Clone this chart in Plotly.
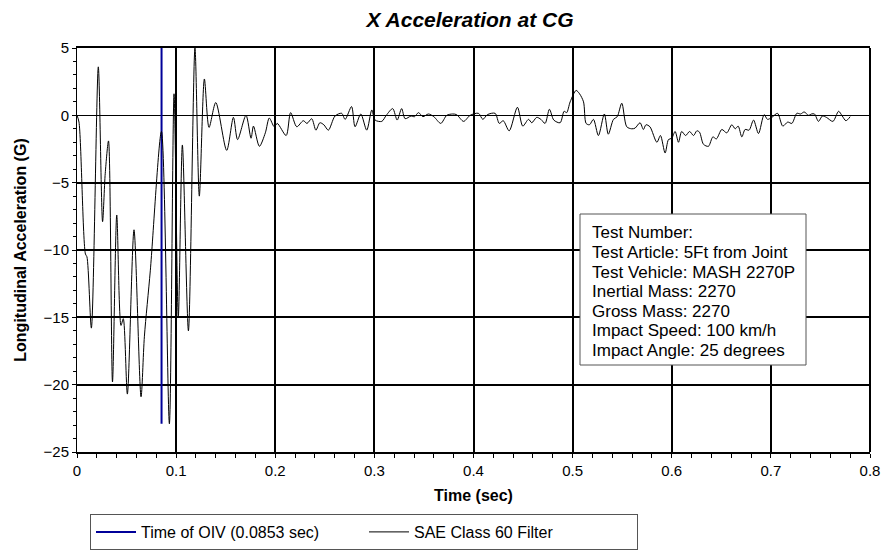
import plotly.graph_objects as go

# SAE class 60 filtered longitudinal acceleration at CG
time_s = [0.000, 0.002, 0.0085, 0.0100, 0.0145, 0.0215, 0.0258, 0.0285, 0.0318, 0.0358,
          0.0401, 0.0444, 0.0467, 0.0508, 0.0575, 0.0646, 0.0680, 0.0740, 0.0852, 0.0932,
          0.0979, 0.1022, 0.1063, 0.1124, 0.1190, 0.1234, 0.1285, 0.1332, 0.1400, 0.1510,
          0.1578, 0.1620, 0.1705, 0.1756, 0.1780, 0.1840, 0.1900, 0.1940, 0.1990, 0.2020,
          0.2110, 0.2155, 0.2217, 0.2283, 0.2320, 0.2368, 0.2410, 0.2450, 0.2490, 0.2536,
          0.2603, 0.2670, 0.2705, 0.2770, 0.2805, 0.2863, 0.2923, 0.2974, 0.3007, 0.3075,
          0.3120, 0.3185, 0.3230, 0.3275, 0.3310, 0.3370, 0.3405, 0.3445, 0.3490, 0.3545,
          0.3600, 0.3670, 0.3730, 0.3790, 0.3830, 0.3900, 0.3966, 0.4050, 0.4094, 0.4140,
          0.4218, 0.4260, 0.4300, 0.4360, 0.4443, 0.4497, 0.4555, 0.4588, 0.4638, 0.4680,
          0.4722, 0.4766, 0.4810, 0.4874, 0.4914, 0.4940, 0.4975, 0.5035, 0.5070, 0.5110,
          0.5136, 0.5170, 0.5210, 0.5260, 0.5320, 0.5360, 0.5412, 0.5450, 0.5496, 0.5546,
          0.5596, 0.5630, 0.5680, 0.5714, 0.5740, 0.5780, 0.5850, 0.5886, 0.5933, 0.5967,
          0.6000, 0.6034, 0.6068, 0.6100, 0.6140, 0.6180, 0.6220, 0.6253, 0.6280, 0.6320,
          0.6370, 0.6415, 0.6450, 0.6505, 0.6555, 0.6606, 0.6640, 0.6670, 0.6707, 0.6740,
          0.6780, 0.6825, 0.6875, 0.6932, 0.6966, 0.7010, 0.7067, 0.7120, 0.7170, 0.7212,
          0.7262, 0.7300, 0.7336, 0.7380, 0.7410, 0.7440, 0.7480, 0.7520, 0.7560, 0.7626,
          0.7683, 0.7720, 0.7757, 0.7800]
accel_g = [0.0, -0.5, -10.3, -10.5, -15.8, 3.6, -7.9, -4.3, -1.9, -19.8,
           -7.4, -15.6, -15.1, -20.7, -8.5, -20.9, -16.4, -11.5, -1.2, -22.9,
           1.6, -15.0, -2.2, -16.0, 5.0, -6.0, 2.7, -0.9, 0.95, -2.6,
           -0.15, -1.8, 0.0, -1.7, -0.8, -2.3, -1.3, -0.2, -0.85, -0.6,
           -1.5, 0.2, -0.85, -0.4, -0.6, -0.25, -1.1, -0.55, -0.7, -1.1,
           -0.05, 0.15, -0.3, 0.65, -0.85, 0.1, -1.1, 0.4, -0.35, -0.45,
           0.0, 0.5, -0.35, 0.5, -0.25, -0.05, -0.1, 0.2, -0.1, 0.1,
           -0.1, -0.6, 0.0, 0.1, 0.05, -0.45, 0.0, 0.15, -0.3, 0.05,
           0.15, -0.6, -0.4, -1.15, 0.6, -0.8, -0.3, -0.55, -0.15, -0.3,
           -0.6, 0.45, -0.35, -0.55, 0.3, 0.2, 1.0, 1.85, 1.6, 1.0,
           -0.6, -0.7, -0.3, -1.5, 0.1, -1.4, -0.3, -0.1, 0.9, -0.85,
           -1.0, -0.95, -0.55, -1.05, -0.7, -0.85, -2.0, -1.5, -2.8, -1.8,
           -1.7, -1.2, -2.0, -1.2, -1.5, -1.2, -1.5, -1.15, -1.25, -2.15,
           -2.3, -1.6, -1.75, -1.05, -1.3, -0.7, -1.0, -0.8, -1.6, -1.05,
           -1.1, -0.35, -1.35, 0.05, -0.3, -0.15, 0.15, -0.8, -0.5, -0.6,
           0.15, 0.1, 0.25, 0.0, 0.1, 0.1, -0.45, -0.05, -0.15, -0.45,
           0.3, -0.05, -0.4, -0.1]

oiv_time = 0.0853
oiv_top = 5

info_lines = [
    "Test Number:",
    "Test Article: 5Ft from Joint",
    "Test Vehicle: MASH 2270P",
    "Inertial Mass: 2270",
    "Gross Mass: 2270",
    "Impact Speed: 100 km/h",
    "Impact Angle: 25 degrees",
]

FONT = "Arial, Liberation Sans, sans-serif"

fig = go.Figure()
fig.add_trace(go.Scatter(
    x=[oiv_time, oiv_time], y=[oiv_top, min(accel_g)],
    mode="lines", line=dict(color="#000099", width=2),
    name="Time of OIV (0.0853 sec)"))
fig.add_trace(go.Scatter(
    x=time_s, y=accel_g, mode="lines",
    line=dict(color="black", width=1, shape="spline", smoothing=0.8),
    name="SAE Class 60 Filter"))

# plot area in pixels: l=77, r=870, t=48, b=452
L, R, T, B = 77, 870, 48, 452
W, H = R - L, B - T

def px(x):
    return (x - L) / W

def py(y):
    return (B - y) / H

# info box
box_l, box_t, box_r, box_b = 580, 214, 806, 365
fig.add_shape(type="rect", xref="paper", yref="paper",
              x0=px(box_l), x1=px(box_r), y0=py(box_b), y1=py(box_t),
              line=dict(color="#555555", width=1), fillcolor="white", layer="above")
for i, line in enumerate(info_lines):
    fig.add_annotation(xref="paper", yref="paper", x=px(590), y=py(233 + i * 19.5),
                       xanchor="left", yanchor="middle", text=line, showarrow=False,
                       font=dict(family=FONT, size=17, color="black"))

# right border
fig.add_shape(type="line", xref="paper", yref="paper", x0=1, x1=1, y0=0, y1=1,
              line=dict(color="black", width=2))

fig.update_layout(
    width=884, height=552,
    margin=dict(l=L, r=884 - R, t=T, b=552 - B, autoexpand=False),
    paper_bgcolor="white", plot_bgcolor="white",
    font=dict(family=FONT, size=15, color="black"),
    title=dict(text="<b><i>X Acceleration at CG</i></b>", x=470 / 884, y=1 - 20 / 552,
               xanchor="center", yanchor="middle", xref="container", yref="container",
               font=dict(family=FONT, size=21, color="black")),
    showlegend=True,
    legend=dict(orientation="h", x=px(90), y=-(514 - B) / H, xanchor="left", yanchor="top",
                bordercolor="#555555", borderwidth=1, bgcolor="white",
                font=dict(family=FONT, size=16), entrywidth=218, entrywidthmode="pixels",
                itemwidth=40, tracegroupgap=0),
)
fig.update_xaxes(
    range=[0, 0.8], dtick=0.1, tick0=0, showgrid=True, gridcolor="black", gridwidth=2,
    zeroline=False, showline=True, linecolor="black", linewidth=2, mirror=True,
    ticks="outside", ticklen=4, tickcolor="black", automargin=False,
    minor=dict(dtick=0.02, ticks="outside", ticklen=4, tickcolor="black", showgrid=False),
    title=dict(text="<b>Time (sec)</b>", font=dict(size=16), standoff=12),
)
fig.update_yaxes(
    range=[-25, 5], dtick=5, tick0=0, showgrid=True, gridcolor="black", gridwidth=2,
    zeroline=True, zerolinecolor="black", zerolinewidth=1,
    showline=True, linecolor="black", linewidth=1, automargin=False,
    ticks="outside", ticklen=4, tickcolor="black",
    minor=dict(dtick=1, ticks="outside", ticklen=3, tickcolor="black", showgrid=False),
    title=dict(text="<b>Longitudinal Acceleration (G)</b>", font=dict(size=16), standoff=12),
)

# drop the default 8px page margin so the figure sits at the window's corner
fig.write_html("out.html", config={"displayModeBar": False},
               post_script="document.body.style.margin='0';")
